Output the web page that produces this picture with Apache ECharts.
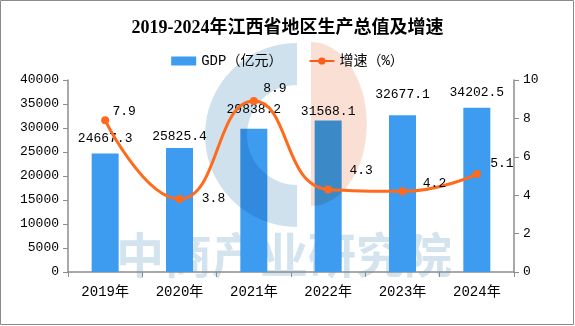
<!DOCTYPE html>
<html>
<head>
<meta charset="utf-8">
<style>
  html, body { margin: 0; padding: 0; background: #fff; }
  #chart { width: 575px; height: 326px; }
</style>
<script src="https://cdn.jsdelivr.net/npm/echarts@6/dist/echarts.min.js"></script>
</head>
<body>
<div id="chart"></div>
<script>
// Jiangxi GDP 2019-2024 and growth rate
const years = ['2019年', '2020年', '2021年', '2022年', '2023年', '2024年'];
const gdp = [24667.3, 25825.4, 29838.2, 31568.1, 32677.1, 34202.5];
const growth = [7.9, 3.8, 8.9, 4.3, 4.2, 5.1];
const leftTicks = { min: 0, max: 40000, step: 5000 };
const rightTicks = { min: 0, max: 10, step: 2 };

// label nudges (pixels) so the value labels sit clear of the curve
const barLabelShift = [[0, -4], [0, 0], [0, -8], [0, 3], [0, -9], [0, -4]];
const lineLabelShift = [[19, -9], [34, 0], [21, -13], [33, -19], [32, -8], [25, -11]];

const MONO = '"Liberation Mono", "Noto Sans CJK SC", monospace';
const AXIS_GRAY = '#8c8c8c';

const chart = echarts.init(document.getElementById('chart'), null, { renderer: 'canvas' });

const option = {
  backgroundColor: '#fff',
  animation: false,
  title: {
    text: '2019-2024年江西省地区生产总值及增速',
    left: 'center',
    top: 14,
    textStyle: {
      fontFamily: '"Liberation Serif", "Noto Sans CJK SC", serif',
      fontSize: 18,
      fontWeight: 'bold',
      color: '#000'
    }
  },
  legend: {
    top: 49,
    left: 'center',
    itemGap: 26,
    itemWidth: 25,
    itemHeight: 9,
    textStyle: { fontFamily: MONO, fontSize: 14, color: '#000' },
    data: [
      { name: 'GDP（亿元）', icon: 'rect' },
      { name: '增速（%）' }
    ]
  },
  grid: { left: 68, right: 61, top: 80, bottom: 54, containLabel: false },
  xAxis: {
    type: 'category',
    data: years,
    axisLine: { lineStyle: { color: AXIS_GRAY, width: 1.5 } },
    axisTick: { show: true, length: 5, lineStyle: { color: AXIS_GRAY } },
    axisLabel: { fontFamily: MONO, fontSize: 14, color: '#000', margin: 13 }
  },
  yAxis: [
    {
      type: 'value',
      min: leftTicks.min,
      max: leftTicks.max,
      interval: leftTicks.step,
      axisLine: { show: true, lineStyle: { color: AXIS_GRAY, width: 1.5 } },
      axisTick: { show: true, length: 5, lineStyle: { color: AXIS_GRAY } },
      splitLine: { show: false },
      axisLabel: {
        fontFamily: MONO, fontSize: 13, color: '#000', margin: 9,
        formatter: (v) => String(v)
      }
    },
    {
      type: 'value',
      min: rightTicks.min,
      max: rightTicks.max,
      interval: rightTicks.step,
      axisLine: { show: true, lineStyle: { color: AXIS_GRAY, width: 1.5 } },
      axisTick: { show: true, length: 5, lineStyle: { color: AXIS_GRAY } },
      splitLine: { show: false },
      axisLabel: {
        fontFamily: MONO, fontSize: 13, color: '#000', margin: 9,
        formatter: (v) => String(v)
      }
    }
  ],
  graphic: [
    // faint brand mark behind the plot
    {
      type: 'text',
      z: -10,
      silent: true,
      left: 116,
      top: 231,
      style: {
        text: '中商产业研究院',
        fill: '#d3e4ef',
        font: 'bold 48px "Noto Sans CJK SC", sans-serif'
      }
    },
    {
      type: 'sector',
      z: 10,
      silent: true,
      shape: { cx: 297, cy: 135, r: 92, r0: 50, startAngle: Math.PI / 2, endAngle: Math.PI * 3 / 2 },
      style: { fill: 'rgb(206, 225, 237)', blend: 'multiply' }
    },
    {
      type: 'sector',
      z: 10,
      silent: true,
      x: 311, y: 124,
      scaleX: 0.68,
      shape: { cx: 0, cy: 0, r: 82, r0: 0, startAngle: -Math.PI / 2, endAngle: Math.PI / 2 },
      style: { fill: 'rgb(250, 224, 212)', blend: 'multiply' }
    },
    // outer frame
    {
      type: 'rect',
      z: 100,
      silent: true,
      shape: { x: 0.5, y: 0.5, width: 573, height: 324 },
      style: { fill: 'none', stroke: '#8a8a8a', lineWidth: 1 }
    }
  ],
  series: [
    {
      name: 'GDP（亿元）',
      type: 'bar',
      yAxisIndex: 0,
      barWidth: 27,
      z: 5,
      itemStyle: { color: '#3d9cf0' },
      label: {
        show: true,
        position: 'top',
        distance: 5,
        fontFamily: MONO,
        fontSize: 13,
        color: '#000'
      },
      data: gdp.map((v, i) => ({ value: v, label: { offset: barLabelShift[i] } }))
    },
    {
      name: '增速（%）',
      type: 'line',
      yAxisIndex: 1,
      smooth: 0.5,
      z: 20,
      symbol: 'circle',
      symbolSize: 8,
      lineStyle: { color: '#ff6a1c', width: 3 },
      itemStyle: { color: '#ff6a1c' },
      label: {
        show: true,
        position: 'inside',
        fontFamily: MONO,
        fontSize: 13,
        color: '#000'
      },
      data: growth.map((v, i) => ({ value: v, label: { offset: lineLabelShift[i] } }))
    }
  ]
};

chart.setOption(option);
</script>
</body>
</html>
